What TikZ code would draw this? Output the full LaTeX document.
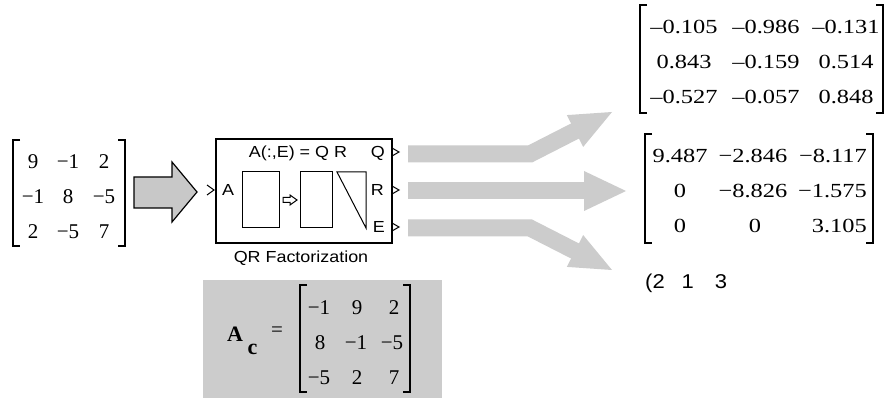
\documentclass[tikz,border=0pt]{standalone}
\usepackage{fontspec}
\setmainfont{Liberation Serif}
\newfontfamily\blkfont[FakeStretch=1.12]{Liberation Sans}
\newfontfamily\widefont[FakeStretch=1.22]{Liberation Serif}
\newfontfamily\permfont[FakeStretch=1.1]{Liberation Sans}
\definecolor{lgray}{RGB}{204,204,204}
\definecolor{agray}{RGB}{200,200,200}
\begin{document}
\begin{tikzpicture}[x=1pt,y=-1pt,
  num/.style={inner sep=0pt, anchor=base, font=\fontsize{21}{21}\selectfont},
  wnum/.style={inner sep=0pt, anchor=base, font=\widefont\fontsize{20}{20}\selectfont},
  blktxt/.style={inner sep=0pt, font=\blkfont\fontsize{16}{16}\selectfont},
  brk/.style={line width=1.3pt},
  innerline/.style={line width=1pt},
  flowline/.style={draw=lgray, line width=17pt, line join=miter},
  flowhead/.style={fill=lgray, draw=none},
]
\useasboundingbox (0,0) rectangle (892,398);
\fill[white] (0,0) rectangle (892,398);

% ---------- input matrix ----------
\draw[brk] (20,140) -- (13,140) -- (13,246) -- (20,246);
\draw[brk] (118,140) -- (125,140) -- (125,246) -- (118,246);
\node[num] (a11) at (33,169) {9};
\node[num] (a12) at (68,169) {−1};
\node[num] (a13) at (104,169) {2};
\node[num] (a21) at (33,204) {−1};
\node[num] (a22) at (68,204) {8};
\node[num] (a23) at (104,204) {−5};
\node[num] (a31) at (33,239) {2};
\node[num] (a32) at (68,239) {−5};
\node[num] (a33) at (104,239) {7};

% ---------- big input arrow ----------
\draw[line width=1.2pt, fill=agray, line join=miter]
  (134,177) -- (172,177) -- (172,162) -- (197,192) -- (172,222) -- (172,208) -- (134,208) -- cycle;

% ---------- QR block ----------
\node[draw, line width=1.2pt, minimum width=176pt, minimum height=104pt, inner sep=0pt] (qr) at (304,191) {};
\node[blktxt, anchor=base] (title) at (298,158) {A(:,E) = Q R};
\node[blktxt, anchor=base west] (pa) at (222,196) {A};
\node[blktxt, anchor=base east] (pq) at (385,158) {Q};
\node[blktxt, anchor=base east] (pr) at (384,196) {R};
\node[blktxt, anchor=base east] (pe) at (385,233) {E};
\node[blktxt, anchor=base] (name) at (301,263) {QR Factorization};
\draw[innerline] (207,185) -- (214,190) -- (207,195);
\draw[innerline] (392,148) -- (399,152) -- (392,156);
\draw[innerline] (392,186) -- (399,190) -- (392,194);
\draw[innerline] (392,223) -- (399,227) -- (392,231);
\node[draw, innerline, minimum width=37pt, minimum height=56pt, inner sep=0pt] (ra) at (260.5,200) {};
\node[draw, innerline, minimum width=32pt, minimum height=56pt, inner sep=0pt] (rq) at (316,200) {};
\draw[innerline] (337,172) -- (366,172) -- (366,228) -- cycle;
\draw[innerline, line join=miter] (283,197.5) -- (290,197.5) -- (290,195) -- (297,200) -- (290,205) -- (290,202.5) -- (283,202.5) -- cycle;

% ---------- output flow arrows ----------
\draw[flowline] (408,154) -- (530,154) -- (577,130);
\fill[flowhead] (566.8,115.1) -- (612,112) -- (583.2,146.9) -- cycle;
\draw[flowline] (408,191) -- (586,191);
\fill[flowhead] (584,171) -- (626,191) -- (584,211) -- cycle;
\draw[flowline] (408,228) -- (530,228) -- (577,252);
\fill[flowhead] (566.8,266.9) -- (612,270) -- (583.2,235.1) -- cycle;

% ---------- Q matrix ----------
\draw[brk] (647,5) -- (640,5) -- (640,113) -- (647,113);
\draw[brk] (876,5) -- (883,5) -- (883,113) -- (876,113);
\node[wnum] (q11) at (684,34) {–0.105};
\node[wnum] (q12) at (766,34) {–0.986};
\node[wnum] (q13) at (846,34) {–0.131};
\node[wnum] (q21) at (684,69) {0.843};
\node[wnum] (q22) at (766,69) {–0.159};
\node[wnum] (q23) at (846,69) {0.514};
\node[wnum] (q31) at (684,104) {–0.527};
\node[wnum] (q32) at (766,104) {–0.057};
\node[wnum] (q33) at (846,104) {0.848};

% ---------- R matrix ----------
\draw[brk] (652,134) -- (645,134) -- (645,243) -- (652,243);
\draw[brk] (866,134) -- (873,134) -- (873,243) -- (866,243);
\node[wnum] (r11) at (680,163) {9.487};
\node[wnum] (r12) at (753,163) {−2.846};
\node[wnum, anchor=base east] (r13) at (867,163) {−8.117};
\node[wnum] (r21) at (680,198) {0};
\node[wnum] (r22) at (753,198) {−8.826};
\node[wnum, anchor=base east] (r23) at (867,198) {−1.575};
\node[wnum] (r31) at (680,233) {0};
\node[wnum] (r32) at (755,233) {0};
\node[wnum, anchor=base east] (r33) at (867,233) {3.105};

% ---------- permutation ----------
\node[inner sep=0pt, anchor=base west, font=\permfont\fontsize{20}{20}\selectfont] (perm) at (645,288) {(2\hspace{17pt}1\hspace{21pt}3};

% ---------- A_c box ----------
\node[fill=lgray, minimum width=239pt, minimum height=118pt, inner sep=0pt] (acbox) at (322.5,339) {};
\node[inner sep=0pt, font=\bfseries\fontsize{22}{22}\selectfont] (acA) at (235,334) {A};
\node[inner sep=0pt, font=\bfseries\fontsize{22}{22}\selectfont] (acc) at (252.5,349) {c};
\node[inner sep=0pt, font=\fontsize{21}{21}\selectfont] (aceq) at (277,332) {=};
\draw[brk] (307,285) -- (300,285) -- (300,392) -- (307,392);
\draw[brk] (403,285) -- (410,285) -- (410,392) -- (403,392);
\node[num] (c11) at (319,314) {−1};
\node[num] (c12) at (357,314) {9};
\node[num] (c13) at (394,314) {2};
\node[num] (c21) at (320,349) {8};
\node[num] (c22) at (356,349) {−1};
\node[num] (c23) at (392,349) {−5};
\node[num] (c31) at (319,384) {−5};
\node[num] (c32) at (357,384) {2};
\node[num] (c33) at (394,384) {7};
\end{tikzpicture}
\end{document}
